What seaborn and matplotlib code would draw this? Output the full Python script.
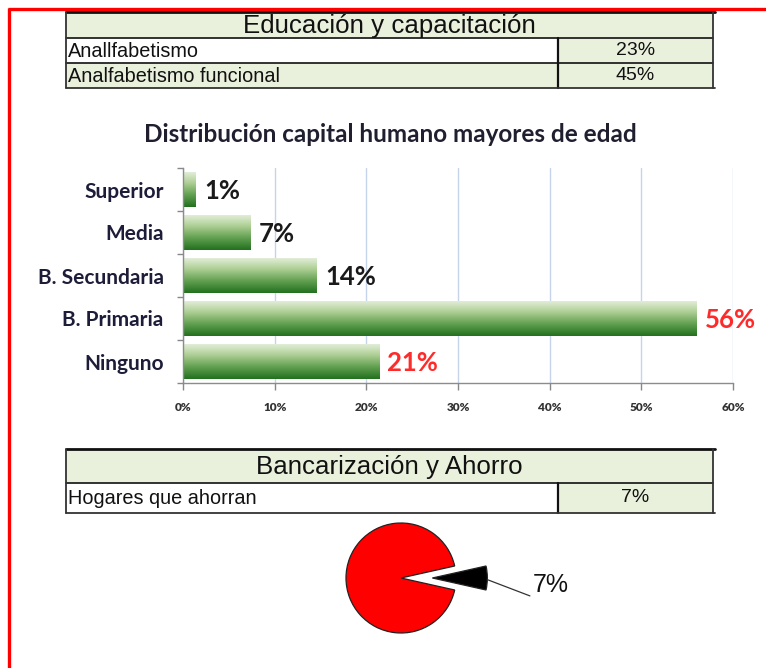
import numpy as np
import pandas as pd
import matplotlib
matplotlib.use('Agg')
import matplotlib.pyplot as plt
import seaborn as sns
from matplotlib.colors import LinearSegmentedColormap
from matplotlib.patches import Rectangle

# datos
edu_titulo = 'Educación y capacitación'
edu_items = ['Anallfabetismo', 'Analfabetismo funcional']
edu_valores = ['23%', '45%']

niveles = ['Superior', 'Media', 'B. Secundaria', 'B. Primaria', 'Ninguno']
porcentaje = [1.4, 7.4, 14.6, 56.0, 21.4]
etiquetas = ['1%', '7%', '14%', '56%', '21%']
color_etiq = ['#1a1a1a', '#1a1a1a', '#1a1a1a', '#ff2a2a', '#ff2a2a']
xticks = [0, 10, 20, 30, 40, 50, 60]

ahorro_titulo = 'Bancarización y Ahorro'
ahorro_items = ['Hogares que ahorran']
ahorro_valores = ['7%']
pie_vals = [93, 7]
pie_label = '7%'

W, H = 766, 668
sns.set_theme(style='white')
plt.rcParams['font.family'] = ['Liberation Sans', 'DejaVu Sans']
lato = ['Lato', 'DejaVu Sans']

fig = plt.figure(figsize=(W / 100, H / 100), dpi=100)

def fx(x):
    return x / W

def fy(y):
    return 1 - y / H

# fondo / marcos
bg = fig.add_axes([0, 0, 1, 1])
bg.set_xlim(0, W)
bg.set_ylim(H, 0)
bg.axis('off')
bg.plot([8, W], [9, 9], color='red', lw=2.4, solid_capstyle='butt')
bg.plot([9, 9], [8, H], color='red', lw=2.4, solid_capstyle='butt')

verde = '#e9f0dc'

def tabla(y0, hh, rh, titulo, items, valores, fills):
    x0, x1, xd = 66, 713, 558
    bg.add_patch(Rectangle((x0, y0), x1 - x0, hh, facecolor=verde, edgecolor='none'))
    bg.text((x0 + x1) / 2, y0 + hh / 2 + 1, titulo, ha='center', va='center',
            fontsize=18.6, color='#111111')
    y = y0 + hh
    for it, val, f in zip(items, valores, fills):
        bg.add_patch(Rectangle((x0, y), xd - x0, rh, facecolor=f, edgecolor='none'))
        bg.add_patch(Rectangle((xd, y), x1 - xd, rh, facecolor=verde, edgecolor='none'))
        bg.text(x0 + 2, y + rh / 2 + 1, it, ha='left', va='center', fontsize=14.3, color='#111111')
        bg.text((xd + x1) / 2, y + rh / 2, val, ha='center', va='center', fontsize=14,
                color='#111111')
        bg.plot([x0, x1], [y, y], color='#222222', lw=1.3)
        bg.plot([xd, xd], [y, y + rh], color='#111111', lw=1.6)
        y += rh
    bg.plot([x0, x1 + 2], [y0, y0], color='#111111', lw=2)
    bg.plot([x0, x1 + 2], [y, y], color='#333333', lw=1.3)
    bg.plot([x0, x0], [y0, y], color='#333333', lw=1.3)
    bg.plot([x1, x1], [y0, y], color='#333333', lw=1.3)

tabla(12, 26, 25, edu_titulo, edu_items, edu_valores, ['white', verde])
tabla(449, 34, 30, ahorro_titulo, ahorro_items, ahorro_valores, ['white'])

# grafico de barras
fig.text(fx(390), fy(134), 'Distribución capital humano mayores de edad', ha='center',
         va='center', fontsize=17.5, fontweight='bold', color='#1f1f2f', family=lato)

ax = fig.add_axes([fx(183), fy(383), (733 - 183) / W, (383 - 168) / H])
df = pd.DataFrame({'nivel': niveles, 'pct': porcentaje})
sns.barplot(data=df, x='pct', y='nivel', orient='h', ax=ax, width=0.8, color='#2d7a2d')

cmap = LinearSegmentedColormap.from_list('g', ['#e2eed8', '#a9cc8f', '#5e9e4e', '#22701f'])
grad = np.linspace(0, 1, 256).reshape(-1, 1)
for p in ax.patches:
    x0, y0 = p.get_x(), p.get_y()
    w, h = p.get_width(), p.get_height()
    p.set_facecolor('none')
    p.set_edgecolor('none')
    im = ax.imshow(grad, extent=[x0, x0 + w, y0 + h, y0], origin='upper', aspect='auto',
                   cmap=cmap, zorder=2)
    im.set_clip_path(p)

for i, (v, lab, c) in enumerate(zip(porcentaje, etiquetas, color_etiq)):
    ax.text(v + 0.9, i + 0.03, lab, ha='left', va='center', fontsize=18.5, fontweight='bold',
            color=c, family=lato)

ax.set_xlim(0, 60)
ax.set_ylim(len(niveles) - 0.5, -0.5)
ax.set_xticks(xticks)
ax.set_xticklabels([f'{t}%' for t in xticks], fontsize=8.5, fontweight='heavy', color='#333333',
                   family=lato)
ax.set_yticks(range(len(niveles)))
ax.set_yticklabels(niveles, fontsize=15, fontweight='bold', color='#1d1d3a', family=lato)
ax.set_yticks(np.arange(-0.5, len(niveles), 1), minor=True)
ax.set_xlabel('')
ax.set_ylabel('')
ax.xaxis.grid(True, color='#c5d4ea', lw=1)
ax.set_axisbelow(True)
ax.tick_params(axis='x', bottom=True, length=5, width=1, color='#888888', pad=9)
ax.tick_params(axis='y', which='major', left=False, length=0, pad=14)
ax.tick_params(axis='y', which='minor', left=True, length=4, width=1, color='#888888')
for s in ['top', 'right']:
    ax.spines[s].set_visible(False)
for s in ['left', 'bottom']:
    ax.spines[s].set_color('#8c8c8c')
    ax.spines[s].set_linewidth(1)

# pastel
r_px = 55
axp = fig.add_axes([fx(300), fy(645), 300 / W, 130 / H])
wedges, _ = axp.pie(pie_vals, colors=['#ff0000', '#000000'], startangle=12.6,
                    explode=[0, 0.57], labels=None,
                    wedgeprops=dict(edgecolor='#222222', linewidth=0.9))
axp.set_xlim(-101 / r_px, 199 / r_px)
axp.set_ylim(-(645 - 578) / r_px, (578 - 515) / r_px)
axp.set_aspect('auto')
axp.axis('off')

wb = wedges[1]
ang = np.deg2rad((wb.theta1 + wb.theta2) / 2)
cx, cy = wb.center
axp.annotate(pie_label, xy=(cx + wb.r * np.cos(ang), cy + wb.r * np.sin(ang) - 0.03),
             xytext=(33, -9), textcoords='offset points', ha='left', va='baseline',
             fontsize=18, color='#111111',
             arrowprops=dict(arrowstyle='-', color='#333333', lw=0.9, shrinkA=0, shrinkB=0,
                             relpos=(0, 0)))

fig.savefig('out.png', dpi=100)
